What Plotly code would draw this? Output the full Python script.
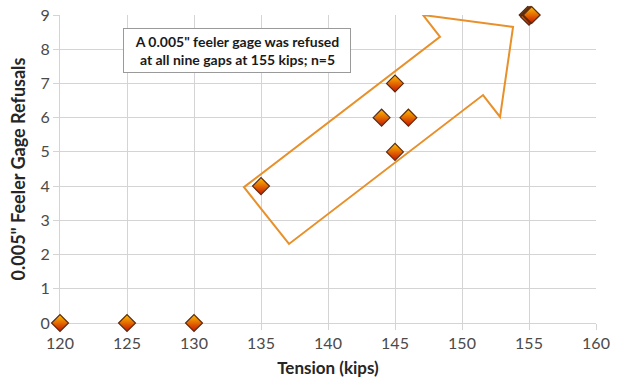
import plotly.graph_objects as go

tension = [120, 125, 130, 135, 144, 145, 146, 145, 154.9, 155, 155, 155.1, 155.2]
refusals = [0, 0, 0, 4, 6, 7, 6, 5, 9, 9, 8.95, 9, 9]

arrow_x = [133.73, 148.36, 147.09, 153.81, 152.84, 151.57, 137.09, 133.73]
arrow_y = [3.97, 8.36, 9.0, 8.65, 6.02, 6.66, 2.31, 3.97]

x_ticks = [120, 125, 130, 135, 140, 145, 150, 155, 160]
y_ticks = [0, 1, 2, 3, 4, 5, 6, 7, 8, 9]

note = 'A 0.005" feeler gage was refused<br>at all nine gaps at 155 kips; n=5'

fig = go.Figure()
path = "M " + " L ".join(f"{x},{y}" for x, y in zip(arrow_x, arrow_y)) + " Z"
fig.add_shape(type="path", path=path, xref="x", yref="y",
              line=dict(color="#e8902a", width=2), fillcolor="rgba(0,0,0,0)", layer="above")

fig.add_trace(go.Scatter(
    x=tension, y=refusals, mode="markers", cliponaxis=False,
    marker=dict(symbol="diamond", size=13, color="#ffc000",
                gradient=dict(type="vertical", color="#c81400"),
                line=dict(color="#5a2a12", width=1.2)),
    showlegend=False, hoverinfo="skip"))

fig.add_annotation(text=note, xref="paper", yref="paper",
                   x=(237 - 60) / 536, y=(323 - 50) / 308, xanchor="center", yanchor="middle",
                   showarrow=False,
                   font=dict(family="Lato", size=14, color="#1a1a1a", weight="bold"),
                   bgcolor="white", bordercolor="#9a9a9a", borderwidth=1,
                   borderpad=4, align="center", width=218)

axis_common = dict(showgrid=True, gridcolor="#d4d4d4", gridwidth=1, zeroline=False,
                   showline=True, linecolor="#d4d4d4", ticks="outside", ticklen=6,
                   tickcolor="#d4d4d4", automargin=False, layer="below traces",
                   tickfont=dict(size=16, color="#4a4a4a"))

fig.update_layout(
    width=617, height=379, paper_bgcolor="white", plot_bgcolor="white",
    margin=dict(l=60, r=21, t=15, b=56),
    font=dict(family="Lato", color="#404040", size=14),
    xaxis=dict(range=[120, 160], tickvals=x_ticks, **axis_common,
               title=dict(text="Tension (kips)", font=dict(size=17, color="#262626", weight="bold"),
                          standoff=10)),
    yaxis=dict(range=[0, 9], tickvals=y_ticks, **axis_common,
               title=dict(text='0.005" Feeler Gage Refusals',
                          font=dict(size=18, color="#262626", weight="bold"), standoff=10)),
)

fig.write_html("out.html", config={"displayModeBar": False},
               post_script="document.body.style.margin='0';")
